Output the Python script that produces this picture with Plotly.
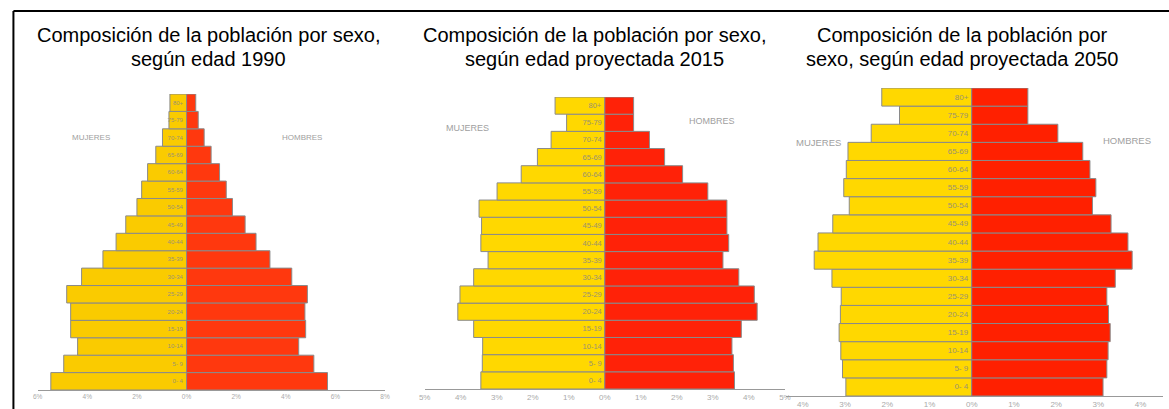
import plotly.graph_objects as go

W, H = 1169, 409

ages = ["0- 4", "5- 9", "10-14", "15-19", "20-24", "25-29", "30-34", "35-39",
        "40-44", "45-49", "50-54", "55-59", "60-64", "65-69", "70-74", "75-79", "80+"]

# values in % (bottom 0-4 to top 80+)
mujeres_1990 = [5.47, 4.95, 4.39, 4.67, 4.67, 4.83, 4.23, 3.37, 2.84, 2.45, 2.00, 1.81, 1.57, 1.24, 0.97, 0.71, 0.67]
hombres_1990 = [5.68, 5.13, 4.52, 4.80, 4.77, 4.87, 4.24, 3.36, 2.80, 2.36, 1.85, 1.60, 1.33, 0.99, 0.71, 0.47, 0.37]

mujeres_2015 = [3.44, 3.40, 3.39, 3.64, 4.08, 4.02, 3.64, 3.24, 3.44, 3.42, 3.49, 2.99, 2.32, 1.87, 1.49, 1.06, 1.38]
hombres_2015 = [3.60, 3.57, 3.53, 3.79, 4.23, 4.15, 3.72, 3.28, 3.44, 3.39, 3.39, 2.86, 2.16, 1.66, 1.24, 0.80, 0.80]

mujeres_2050 = [2.98, 3.06, 3.10, 3.14, 3.11, 3.09, 3.31, 3.73, 3.64, 3.29, 2.90, 3.03, 2.97, 2.93, 2.38, 1.71, 2.13]
hombres_2050 = [3.11, 3.20, 3.23, 3.28, 3.24, 3.20, 3.40, 3.80, 3.70, 3.30, 2.86, 2.94, 2.80, 2.63, 2.04, 1.33, 1.33]

titles = [
    ["Composición de la población por sexo,", "según edad 1990"],
    ["Composición de la población por sexo,", "según edad proyectada 2015"],
    ["Composición de la población por", "sexo, según edad proyectada 2050"],
]

tick_vals_1 = [-6, -4, -2, 0, 2, 4, 6, 8]
tick_vals_2 = [-5, -4, -3, -2, -1, 0, 1, 2, 3, 4, 5]
tick_vals_3 = [-4, -3, -2, -1, 0, 1, 2, 3, 4]

panels = [
    dict(m=mujeres_1990, h=hombres_1990, cm="#FACB00", ch="#FF380E",
         xdom=[32, 383], ydom=[94, 390], xr=[-6, 8], tv=tick_vals_1, fs_age=6, fs_tick=6.5, fs_lab=8,
         muj=(-3.84, 14.03), hom=(4.64, 14.03), tx=205),
    dict(m=mujeres_2015, h=hombres_2015, cm="#FFD800", ch="#FF2208",
         xdom=[423, 787], ydom=[97, 389], xr=[-5, 5], tv=tick_vals_2, fs_age=7.5, fs_tick=8, fs_lab=9,
         muj=(-3.8, 14.7), hom=(2.97, 15.1), tx=595),
    dict(m=mujeres_2050, h=hombres_2050, cm="#FFD800", ch="#FF2000",
         xdom=[788, 1169], ydom=[88, 396], xr=[-4.4, 4.53], tv=tick_vals_3, fs_age=8, fs_tick=8, fs_lab=9.5,
         muj=(-3.62, 13.47), hom=(3.68, 13.63), tx=966),
]

fig = go.Figure()
annotations = []
for i, p in enumerate(panels, start=1):
    xa = "x" if i == 1 else f"x{i}"
    ya = "y" if i == 1 else f"y{i}"
    fig.add_trace(go.Bar(
        y=ages, x=[-v for v in p["m"]], orientation="h", xaxis=xa, yaxis=ya,
        marker=dict(color=p["cm"], line=dict(color="#8a8a8a", width=1)),
        text=ages, textposition="inside", insidetextanchor="start", constraintext="none",
        textangle=0, textfont=dict(size=p["fs_age"], color="#9a9270", family="Liberation Sans"),
        showlegend=False, hoverinfo="skip"))
    fig.add_trace(go.Bar(
        y=ages, x=p["h"], orientation="h", xaxis=xa, yaxis=ya,
        marker=dict(color=p["ch"], line=dict(color="#8a8a8a", width=1)),
        showlegend=False, hoverinfo="skip"))
    xkey = "xaxis" if i == 1 else f"xaxis{i}"
    ykey = "yaxis" if i == 1 else f"yaxis{i}"
    fig.update_layout(**{
        xkey: dict(domain=[p["xdom"][0] / W, p["xdom"][1] / W], range=p["xr"], anchor=ya,
                   tickvals=p["tv"], ticktext=[f"{abs(v)}%" for v in p["tv"]],
                   tickfont=dict(size=p["fs_tick"], color="#aaaaaa", family="Liberation Sans"),
                   showgrid=False, zeroline=False, showline=True, linecolor="#999999", linewidth=1,
                   ticks="", fixedrange=True),
        ykey: dict(domain=[1 - p["ydom"][1] / H, 1 - p["ydom"][0] / H], range=[-0.5, 16.5],
                   anchor=xa, visible=False, type="category", categoryorder="array",
                   categoryarray=ages, fixedrange=True),
    })
    annotations.append(dict(text="MUJERES", x=p["muj"][0], y=p["muj"][1], xref=xa, yref=ya,
                            showarrow=False, font=dict(size=p["fs_lab"], color="#a0a0a0",
                                                       family="Liberation Sans")))
    annotations.append(dict(text="HOMBRES", x=p["hom"][0], y=p["hom"][1], xref=xa, yref=ya,
                            showarrow=False, font=dict(size=p["fs_lab"], color="#a0a0a0",
                                                       family="Liberation Sans")))
    for line, ypx in zip(titles[i - 1], [35, 59]):
        annotations.append(dict(text=line, x=p["tx"] / W, y=1 - ypx / H, xref="paper", yref="paper",
                                showarrow=False, xanchor="center", yanchor="middle",
                                font=dict(size=20, color="#000000", family="Liberation Sans")))

fig.update_layout(
    width=W, height=H, margin=dict(l=0, r=0, t=0, b=0),
    paper_bgcolor="white", plot_bgcolor="rgba(0,0,0,0)",
    barmode="relative", bargap=0, hovermode=False,
    annotations=annotations,
    shapes=[
        dict(type="line", xref="paper", yref="paper", x0=7.5 / W, x1=7.5 / W, y0=1 - 11 / H, y1=-0.05,
             line=dict(color="black", width=2)),
        dict(type="line", xref="paper", yref="paper", x0=7.5 / W, x1=1.02, y0=1 - 11 / H, y1=1 - 11 / H,
             line=dict(color="black", width=2)),
    ],
)

fig.write_html("out.html", config={"displayModeBar": False, "staticPlot": True},
               post_script="document.body.style.margin='0px';document.body.style.overflow='hidden';")
